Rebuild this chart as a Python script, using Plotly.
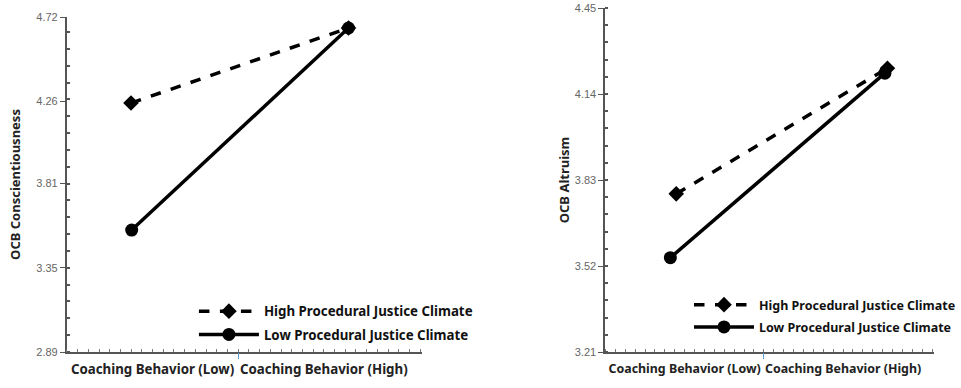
import plotly.graph_objects as go

# ---- data ----
categories = ["Coaching Behavior (Low)", "Coaching Behavior (High)"]
cat_pos = [0.5, 1.5]

# Left panel: OCB Conscientiousness
left_x_high = [0.374, 1.644]
left_high = [4.25, 4.66]
left_x_low = [0.378, 1.644]
left_low = [3.556, 4.66]
left_ticks = [2.89, 3.35, 3.81, 4.26, 4.72]

# Right panel: OCB Altruism
right_x_high = [0.447, 1.78]
right_high = [3.78, 4.233]
right_x_low = [0.41, 1.764]
right_low = [3.55, 4.215]
right_ticks = [3.21, 3.52, 3.83, 4.14, 4.45]

series_names = ["High Procedural Justice Climate", "Low Procedural Justice Climate"]

W, H = 961, 388
XR = [0, 2.075]

def px(v):
    return v / W

def py(v):
    return 1 - v / H

fig = go.Figure()

def add_pair(xh, yh, xl, yl, xa, ya, legend):
    fig.add_trace(go.Scatter(x=xh, y=yh, mode="lines+markers", name="<b>%s</b>" % series_names[0],
                             line=dict(color="black", width=3.5, dash="dash"),
                             marker=dict(symbol="diamond", size=12, color="black"),
                             xaxis=xa, yaxis=ya, legend=legend, legendgroup="h" + legend,
                             cliponaxis=False))
    fig.add_trace(go.Scatter(x=xl, y=yl, mode="lines+markers", name="<b>%s</b>" % series_names[1],
                             line=dict(color="black", width=3.5),
                             marker=dict(symbol="circle", size=13, color="black"),
                             xaxis=xa, yaxis=ya, legend=legend, legendgroup="l" + legend,
                             cliponaxis=False))

add_pair(left_x_high, left_high, left_x_low, left_low, "x", "y", "legend")
add_pair(right_x_high, right_high, right_x_low, right_low, "x2", "y2", "legend2")
# invisible traces to host the middle-tick overlay axes
fig.add_trace(go.Scatter(x=[None], y=[None], xaxis="x3", yaxis="y", showlegend=False))
fig.add_trace(go.Scatter(x=[None], y=[None], xaxis="x4", yaxis="y2", showlegend=False))

tickfont = dict(family="Liberation Sans, Arial", size=11, color="#666666")

def xaxis_main(domain, anchor, fsize):
    return dict(domain=domain, anchor=anchor, range=XR, showgrid=False, zeroline=False,
                showline=True, linecolor="#555555", linewidth=2, automargin=False,
                tickmode="array", tickvals=cat_pos, tickangle=0,
                ticktext=["<b>%s</b>" % c for c in categories],
                ticks="", tickfont=dict(family="Noto Sans", size=fsize, color="#222222"),
                ticklabelstandoff=4, ticklabeloverflow="allow",
                minor=dict(ticks="inside", dtick=0.0625, tick0=0, ticklen=3,
                           tickcolor="#777777", tickwidth=1, showgrid=False),
                fixedrange=True)

def xaxis_mid(overlay, anchor):
    return dict(overlaying=overlay, anchor=anchor, range=XR, showgrid=False, zeroline=False,
                showline=False, tickmode="array", tickvals=[1], ticks="outside", automargin=False,
                ticklen=6, tickcolor="#5b9bd5", tickwidth=1, showticklabels=False)

def yaxis(domain, anchor, ticks, title, standoff):
    step = (ticks[1] - ticks[0]) / 5
    return dict(domain=domain, anchor=anchor, range=[ticks[0], ticks[-1]], automargin=False,
                showgrid=False, zeroline=False, showline=True, linecolor="#555555",
                linewidth=2, tickmode="array", tickvals=ticks,
                ticktext=["%.2f" % t for t in ticks], ticks="outside", ticklen=5,
                tickcolor="#555555", tickwidth=1, tickfont=tickfont, ticklabeloverflow="allow",
                minor=dict(ticks="inside", tickmode="linear", tick0=ticks[0], dtick=step,
                           ticklen=3, tickcolor="#555555", tickwidth=1.5, showgrid=False),
                title=dict(text="<b>%s</b>" % title, font=dict(family="Noto Sans", size=13, color="#222222"),
                           standoff=standoff))

fig.update_layout(
    width=W, height=H, margin=dict(l=0, r=0, t=0, b=0),
    paper_bgcolor="white", plot_bgcolor="white",
    xaxis=xaxis_main([px(68), px(429)], "y", 13.3),
    yaxis=yaxis([py(352), py(17)], "x", left_ticks, "OCB Conscientiousness", 13),
    xaxis2=xaxis_main([px(615), px(949)], "y2", 12.4),
    yaxis2=yaxis([py(352), py(8)], "x2", right_ticks, "OCB Altruism", 2),
    xaxis3=xaxis_mid("x", "y"),
    xaxis4=xaxis_mid("x2", "y2"),
    legend=dict(x=px(197), y=py(296), xanchor="left", yanchor="top",
                font=dict(family="Noto Sans", size=13.3, color="#111111"),
                bgcolor="rgba(0,0,0,0)", tracegroupgap=3, itemwidth=60),
    legend2=dict(x=px(700), y=py(290), xanchor="left", yanchor="top",
                 font=dict(family="Noto Sans", size=12.5, color="#111111"),
                 bgcolor="rgba(0,0,0,0)", tracegroupgap=3, itemwidth=60),
    showlegend=True,
)

fig.write_html(
    "out.html",
    config={"displayModeBar": False},
    post_script="document.body.style.margin='0';document.body.style.overflow='hidden';",
)
